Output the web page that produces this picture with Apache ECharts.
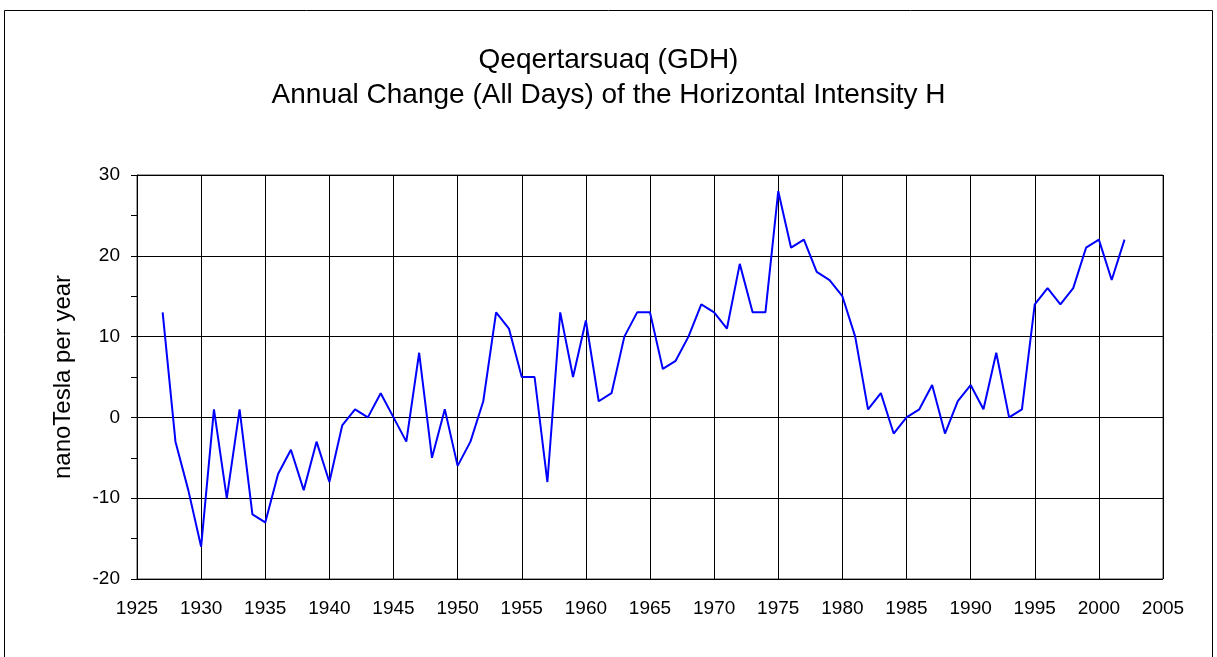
<!DOCTYPE html>
<html><head><meta charset="utf-8">
<script src="https://cdn.jsdelivr.net/npm/echarts@6/dist/echarts.min.js"></script>
<style>html,body{margin:0;padding:0;background:#fff;}#c{width:1217px;height:657px;}</style>
</head><body><div id="c"></div>
<script>
const years = [1927,1928,1929,1930,1931,1932,1933,1934,1935,1936,1937,1938,1939,1940,1941,1942,1943,1944,1945,1946,1947,1948,1949,1950,1951,1952,1953,1954,1955,1956,1957,1958,1959,1960,1961,1962,1963,1964,1965,1966,1967,1968,1969,1970,1971,1972,1973,1974,1975,1976,1977,1978,1979,1980,1981,1982,1983,1984,1985,1986,1987,1988,1989,1990,1991,1992,1993,1994,1995,1996,1997,1998,1999,2000,2001,2002];
const values = [13,-3,-9,-16,1,-10,1,-12,-13,-7,-4,-9,-3,-8,-1,1,0,3,0,-3,8,-5,1,-6,-3,2,13,11,5,5,-8,13,5,12,2,3,10,13,13,6,7,10,14,13,11,19,13,13,28,21,22,18,17,15,10,1,3,-2,0,1,4,-2,2,4,1,8,0,1,14,16,14,16,21,22,17,22];
const titleLines = ['Qeqertarsuaq (GDH)', 'Annual Change (All Days) of the Horizontal Intensity H'];
const yAxisName = 'nanoTesla per year';

const chart = echarts.init(document.getElementById('c'));
const font = '"Liberation Sans", Arial, sans-serif';
chart.setOption({
  animation: false,
  backgroundColor: '#fff',
  graphic: [{
    type: 'rect', shape: {x: 4.5, y: 10.5, width: 1208, height: 670},
    style: {fill: 'none', stroke: '#000', lineWidth: 1}, z: -1
  }],
  title: {
    text: titleLines.join('\n'),
    left: 'center', top: 38,
    textStyle: {fontFamily: font, fontWeight: 'normal', fontSize: 28, color: '#000', lineHeight: 35}
  },
  grid: {left: 137, right: 54, top: 175, bottom: 78, show: true, borderColor: '#444', borderWidth: 1},
  xAxis: {
    type: 'value', min: 1925, max: 2005, interval: 5,
    axisLine: {show: true, lineStyle: {color: '#000'}},
    axisTick: {show: true, length: 5, lineStyle: {color: '#000'}},
    splitLine: {show: true, lineStyle: {color: '#000', width: 1}},
    axisLabel: {fontFamily: font, fontSize: 19, color: '#000', margin: 20, formatter: v => String(v)}
  },
  yAxis: {
    type: 'value', min: -20, max: 30, interval: 10,
    name: yAxisName, nameLocation: 'middle', nameGap: 62,
    nameTextStyle: {fontFamily: font, fontSize: 24, color: '#000'},
    axisLine: {show: true, lineStyle: {color: '#000'}},
    axisTick: {show: true, length: 6, lineStyle: {color: '#000'}},
    minorTick: {show: true, splitNumber: 2, length: 6, lineStyle: {color: '#000'}},
    splitLine: {show: true, lineStyle: {color: '#000', width: 1}},
    axisLabel: {fontFamily: font, fontSize: 19, color: '#000', margin: 17}
  },
  series: [{
    type: 'line',
    data: years.map((y, i) => [y, values[i]]),
    showSymbol: false,
    lineStyle: {color: '#0000ff', width: 2},
    itemStyle: {color: '#0000ff'}
  }]
});
</script></body></html>
